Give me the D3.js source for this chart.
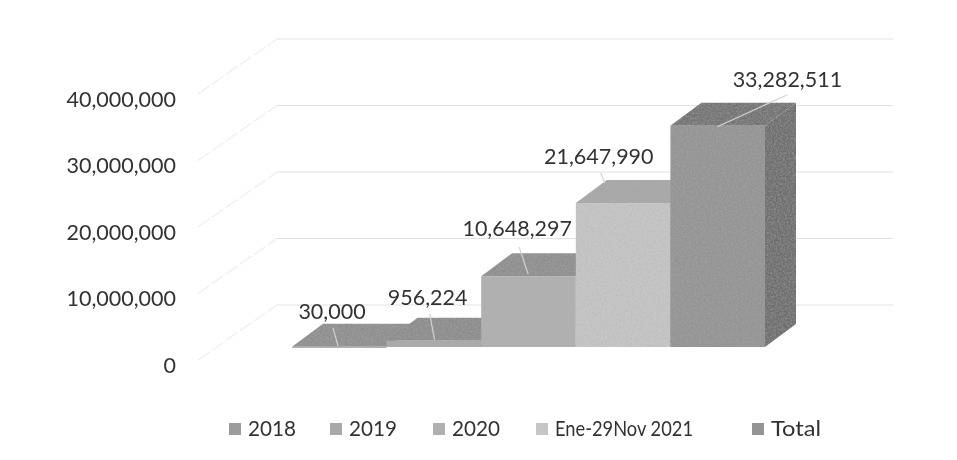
<!DOCTYPE html>
<html>
<head>
<meta charset="utf-8">
<script src="https://cdn.jsdelivr.net/npm/d3@7"></script>
<style>
  body { margin: 0; background: #fff; }
  svg { display: block; }
  text { font-family: Lato, "Open Sans", sans-serif; fill: #333; filter: url(#soft); }
</style>
</head>
<body>
<svg id="chart" width="957" height="460"></svg>
<script>
"use strict";

// Data
var categories = ["2018", "2019", "2020", "Ene-29Nov 2021", "Total"];
var values = [30000, 956224, 10648297, 21647990, 33282511];
var ticks = [0, 10000000, 20000000, 30000000, 40000000];

// Colours: front, top, side
var front = ["#9c9c9c", "#a9a9a9", "#b0b0b0", "#c6c6c6", "#949494"];
var tops = ["#8f8f8f", "#8c8c8c", "#8f8f8f", "#a8a8a8", "#737373"];
var side = "#6e6e6e";

// Layout
var svg = d3.select("#chart");
var x = d3.scaleBand().domain(categories).range([292, 765]).padding(0);
var y = d3.scaleLinear().domain([0, 40000000]).range([347, 81]);
var fmt = d3.format(",");
var depth = { dx: 31, dy: -23 };     // bar depth
var wall = { dx: -15, dy: -42 };     // back wall from bar front
var axisShift = 18;                  // front edge of the floor from bar front
var wallLeft = 277, wallRight = 893, floorLeft = 190;
var fontSize = 21.5;

// grain like the scan in the original
var defs = svg.append("defs");
var grain = defs.append("filter").attr("id", "grain")
  .attr("x", 0).attr("y", 0).attr("width", 1).attr("height", 1);
grain.append("feTurbulence").attr("type", "fractalNoise")
  .attr("baseFrequency", 0.55).attr("numOctaves", 2).attr("seed", 4).attr("result", "n");
grain.append("feColorMatrix").attr("in", "n").attr("type", "matrix")
  .attr("values", "0 0 0 0 0.42  0 0 0 0 0.42  0 0 0 0 0.42  0.9 0 0 0 -0.33").attr("result", "speck");
grain.append("feComposite").attr("in", "speck").attr("in2", "SourceGraphic").attr("operator", "atop");
defs.append("filter").attr("id", "soft")
  .append("feGaussianBlur").attr("stdDeviation", 0.35);

// Grid on the back wall and left wall
ticks.forEach(function(t) {
  svg.append("line")
    .attr("x1", wallLeft).attr("x2", wallRight)
    .attr("y1", y(t) + wall.dy).attr("y2", y(t) + wall.dy)
    .attr("stroke", "#e2e2e2").attr("stroke-width", 1.2);
  svg.append("line")
    .attr("x1", floorLeft + 8).attr("x2", wallLeft)
    .attr("y1", y(t) + axisShift - 5).attr("y2", y(t) + wall.dy)
    .attr("stroke", "#eeeeee").attr("stroke-width", 1.2)
    .attr("stroke-dasharray", "14 3");
});

// Tick labels
svg.selectAll(".tick-label")
  .data(ticks)
  .enter().append("text")
  .attr("class", "tick-label")
  .attr("x", 176)
  .attr("y", function(d) { return y(d) + axisShift; })
  .attr("dy", "0.35em")
  .attr("text-anchor", "end")
  .attr("font-size", fontSize)
  .text(function(d) { return fmt(d); });

function poly(points) {
  return points.map(function(p) { return p.join(","); }).join(" ");
}

// Bars, left to right so later ones cover the side of earlier ones
categories.forEach(function(c, i) {
  var x0 = x(c), x1 = x0 + x.bandwidth();
  var yTop = y(values[i]), yBase = y(0);
  var g = svg.append("g").attr("filter", "url(#grain)");

  g.append("polygon")
    .attr("points", poly([[x1, yBase], [x1 + depth.dx, yBase + depth.dy], [x1 + depth.dx, yTop + depth.dy], [x1, yTop]]))
    .attr("fill", side);
  g.append("polygon")
    .attr("points", poly([[x0, yTop], [x0 + depth.dx, yTop + depth.dy], [x1 + depth.dx, yTop + depth.dy], [x1, yTop]]))
    .attr("fill", tops[i]);
  g.append("rect")
    .attr("x", x0).attr("y", yTop)
    .attr("width", x.bandwidth()).attr("height", Math.max(yBase - yTop, 1))
    .attr("fill", front[i]);
});

// Value labels sit off the bars by hand, with leader lines, as in Excel
var labelAt = [[40, -35], [41, -43], [36, -48], [23, -47], [117, -46]];
var leaderFrom = [[41, -19], [43, -27], [38, -29], [25, -30], [117, -31]];
var leaderTo = [[46, -1], [48, -1], [47, -2], [29, -20], [47, 1]];

categories.forEach(function(c, i) {
  var bx = x(c), by = y(values[i]);
  svg.append("line")
    .attr("x1", bx + leaderFrom[i][0]).attr("y1", by + leaderFrom[i][1])
    .attr("x2", bx + leaderTo[i][0]).attr("y2", by + leaderTo[i][1])
    .attr("stroke", "#d2d2d2").attr("stroke-width", 1.2);
  svg.append("text")
    .attr("x", bx + labelAt[i][0])
    .attr("y", by + labelAt[i][1])
    .attr("dy", "0.35em")
    .attr("text-anchor", "middle")
    .attr("font-size", fontSize)
    .text(fmt(values[i]));
});

// Legend
var legendX = [229, 330, 433, 536, 752];
var legendWidth = [48, 48, 48, 138, 50];   // the original font is narrower in its letters
categories.forEach(function(c, i) {
  svg.append("rect")
    .attr("x", legendX[i]).attr("y", 423)
    .attr("width", 12).attr("height", 12)
    .attr("fill", front[i]);
  svg.append("text")
    .attr("x", legendX[i] + 19).attr("y", 429)
    .attr("dy", "0.35em")
    .attr("font-size", 21)
    .attr("textLength", legendWidth[i])
    .attr("lengthAdjust", "spacingAndGlyphs")
    .text(c);
});
</script>
</body>
</html>
